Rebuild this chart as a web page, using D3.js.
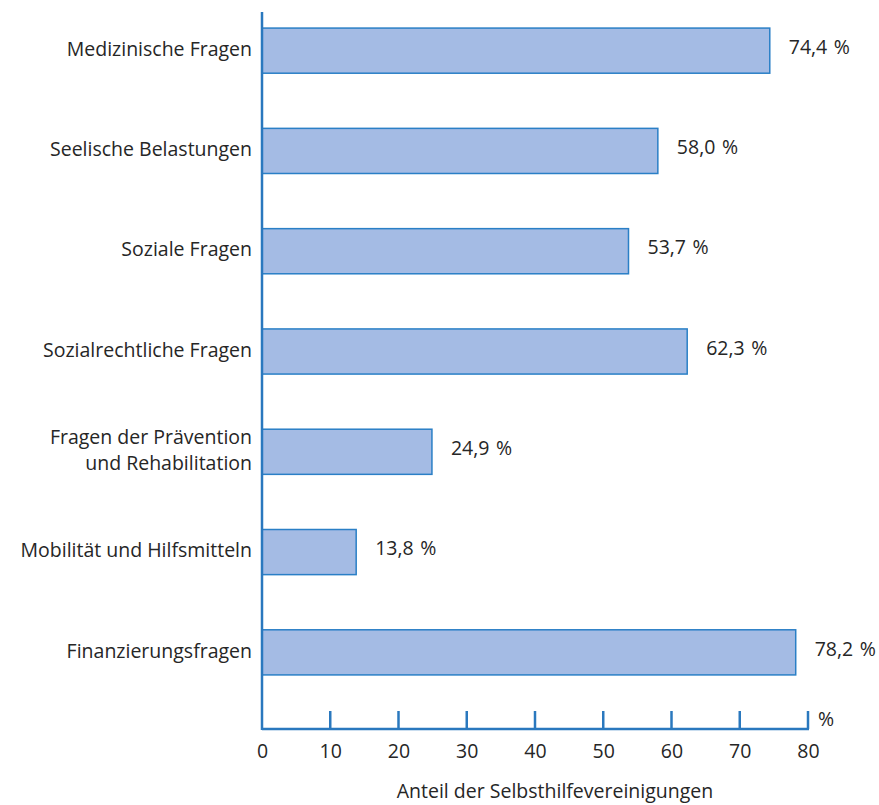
<!DOCTYPE html>
<html>
<head>
<meta charset="utf-8">
<script src="https://cdn.jsdelivr.net/npm/d3@7"></script>
<style>
  html, body { margin: 0; padding: 0; background: #fff; }
  svg text { font-family: "Open Sans", "Noto Sans", sans-serif; fill: #262626; }
</style>
</head>
<body>
<div id="chart"></div>
<script>
// Themen, zu denen Selbsthilfevereinigungen beraten (Anteil in %)
const categories = [
  ["Medizinische Fragen"],
  ["Seelische Belastungen"],
  ["Soziale Fragen"],
  ["Sozialrechtliche Fragen"],
  ["Fragen der Prävention", "und Rehabilitation"],
  ["Mobilität und Hilfsmitteln"],
  ["Finanzierungsfragen"]
];
const values = [74.4, 58.0, 53.7, 62.3, 24.9, 13.8, 78.2];
const xTicks = [0, 10, 20, 30, 40, 50, 60, 70, 80];
const xUnit = "%";
const xTitle = "Anteil der Selbsthilfevereinigungen";

const W = 879, H = 805;
const FS = "19.5px";
const axisColor = "#2a78be";
const barFill = "#a4bbe4";
const barStroke = "#2a7fc6";

const svg = d3.select("#chart").append("svg")
  .attr("width", W).attr("height", H);

const x0 = 262, axisY = 729;
const x = d3.scaleLinear().domain([0, 80]).range([x0, 808]);
const y = d3.scaleBand()
  .domain(d3.range(categories.length))
  .range([0, 703])
  .paddingInner(0.55)
  .paddingOuter(0.28);

// Balken
svg.append("g").selectAll("rect")
  .data(values)
  .join("rect")
  .attr("x", x(0))
  .attr("y", (d, i) => y(i))
  .attr("width", d => x(d) - x(0))
  .attr("height", y.bandwidth())
  .attr("fill", barFill)
  .attr("stroke", barStroke)
  .attr("stroke-width", 1.5);

// Wertbeschriftungen
svg.append("g").selectAll("text")
  .data(values)
  .join("text")
  .attr("x", d => x(d) + 19)
  .attr("y", (d, i) => y(i) + y.bandwidth() / 2 - 2)
  .attr("dominant-baseline", "middle")
  .style("font-size", FS)
  .style("word-spacing", "1.5px")
  .text(d => d3.format(".1f")(d).replace(".", ",") + " %");

// Kategorienbeschriftungen
const catG = svg.append("g");
categories.forEach((lines, i) => {
  const cy = y(i) + y.bandwidth() / 2;
  const lh = 26;
  const t = catG.append("text")
    .attr("text-anchor", "end")
    .style("font-size", FS);
  lines.forEach((ln, j) => {
    t.append("tspan")
      .attr("x", 252)
      .attr("y", cy + (j - (lines.length - 1) / 2) * lh)
      .attr("dominant-baseline", "middle")
      .text(ln);
  });
});

// y-Achse
svg.append("line")
  .attr("x1", x0).attr("x2", x0)
  .attr("y1", 12).attr("y2", axisY + 1)
  .attr("stroke", axisColor).attr("stroke-width", 2.5);

// x-Achse mit Markierungen
const xAxis = d3.axisBottom(x)
  .tickValues(xTicks)
  .tickSize(0)
  .tickFormat(d3.format("d"));
const gx = svg.append("g")
  .attr("transform", `translate(0,${axisY})`)
  .call(xAxis);
gx.select(".domain").remove();
gx.selectAll("text")
  .attr("dy", null)
  .attr("y", 24)
  .attr("dominant-baseline", "middle")
  .style("font-size", FS)
  .style("font-family", "\"Open Sans\", \"Noto Sans\", sans-serif")
  .attr("fill", "#262626");
svg.append("line")
  .attr("x1", x0).attr("x2", x(80) + 1)
  .attr("y1", axisY).attr("y2", axisY)
  .attr("stroke", axisColor).attr("stroke-width", 2.5);
svg.append("g").selectAll("line")
  .data(xTicks.slice(1))
  .join("line")
  .attr("x1", d => x(d)).attr("x2", d => x(d))
  .attr("y1", axisY - 18).attr("y2", axisY)
  .attr("stroke", axisColor).attr("stroke-width", 2.5);

svg.append("text")
  .attr("x", x(80) + 10)
  .attr("y", axisY - 8)
  .attr("dominant-baseline", "middle")
  .style("font-size", FS)
  .text(xUnit);

svg.append("text")
  .attr("x", 555)
  .attr("y", 793)
  .attr("text-anchor", "middle")
  .attr("dominant-baseline", "middle")
  .style("font-size", FS)
  .text(xTitle);
</script>
</body>
</html>
